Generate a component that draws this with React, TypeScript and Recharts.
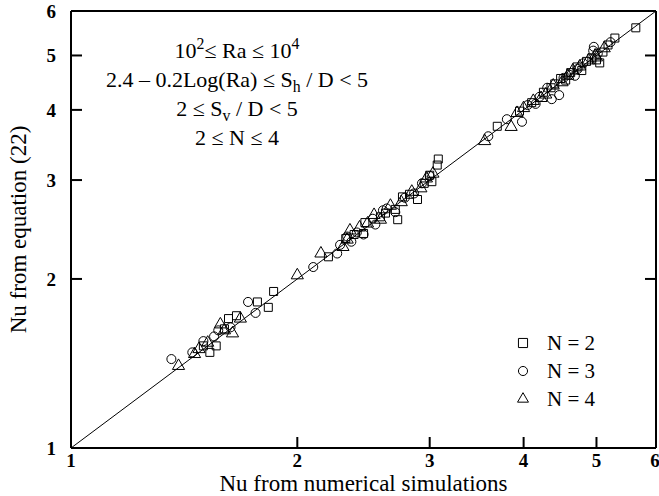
import { Legend, ReferenceLine, Scatter, ScatterChart, Symbols, XAxis, YAxis } from "recharts";

const WIDTH = 659;
const HEIGHT = 496;
const FONT = '"Liberation Serif", "Times New Roman", serif';

const TICKS = [1, 2, 3, 4, 5, 6];
const DOMAIN: [number, number] = [1, 6];

// [Nu from numerical simulations, Nu from equation (22)]
const N2_POINTS: [number, number][] = [
  [1.5, 1.52], [1.53, 1.48], [1.56, 1.52], [1.6, 1.63], [1.62, 1.7], [1.66, 1.72],
  [1.77, 1.82], [1.83, 1.78], [1.86, 1.9],
  [2.2, 2.19], [2.32, 2.36], [2.38, 2.4], [2.45, 2.41], [2.46, 2.52], [2.58, 2.58],
  [2.62, 2.62], [2.7, 2.66], [2.72, 2.55], [2.76, 2.8], [2.82, 2.83], [2.89, 2.77],
  [2.95, 2.96], [3.0, 3.06], [3.02, 2.98], [3.07, 3.19], [3.08, 3.27],
  [3.69, 3.74], [3.95, 3.98], [4.1, 4.12], [4.25, 4.3], [4.35, 4.38], [4.4, 4.45],
  [4.48, 4.55], [4.55, 4.52], [4.62, 4.66], [4.71, 4.77], [4.78, 4.7], [4.85, 4.88],
  [4.93, 4.95], [5.0, 4.91], [5.05, 4.85], [5.1, 5.07], [5.18, 5.22], [5.29, 5.37],
  [5.64, 5.6],
];

const N3_POINTS: [number, number][] = [
  [1.36, 1.44], [1.45, 1.48], [1.5, 1.55], [1.55, 1.58], [1.57, 1.62], [1.63, 1.64],
  [1.72, 1.82], [1.76, 1.74],
  [2.1, 2.1], [2.26, 2.22], [2.28, 2.3], [2.33, 2.38], [2.36, 2.33], [2.4, 2.42],
  [2.45, 2.4], [2.52, 2.56], [2.54, 2.5], [2.6, 2.65], [2.63, 2.67], [2.7, 2.63],
  [2.78, 2.79], [2.86, 2.84], [2.93, 2.96], [3.0, 3.05],
  [3.59, 3.59], [3.8, 3.85], [3.98, 3.81], [4.05, 4.08], [4.15, 4.1], [4.2, 4.22],
  [4.3, 4.38], [4.36, 4.18], [4.46, 4.25], [4.52, 4.56], [4.6, 4.62], [4.68, 4.6],
  [4.72, 4.73], [4.8, 4.84], [4.95, 5.1], [4.96, 5.18], [5.02, 5.04], [5.22, 5.28],
];

const N4_POINTS: [number, number][] = [
  [1.39, 1.4], [1.46, 1.47], [1.48, 1.5], [1.52, 1.54], [1.58, 1.66], [1.6, 1.62],
  [1.64, 1.6], [1.68, 1.7],
  [2.0, 2.03], [2.15, 2.22], [2.3, 2.28], [2.33, 2.35], [2.35, 2.44], [2.42, 2.47],
  [2.48, 2.51], [2.53, 2.6], [2.58, 2.55], [2.66, 2.7], [2.75, 2.74], [2.84, 2.86],
  [2.92, 2.9], [2.97, 3.02], [3.03, 3.08],
  [3.55, 3.52], [3.85, 3.73], [3.92, 3.95], [4.0, 4.03], [4.12, 4.15], [4.22, 4.2],
  [4.28, 4.26], [4.38, 4.42], [4.5, 4.48], [4.58, 4.6], [4.65, 4.7], [4.75, 4.78],
  [4.88, 4.9], [4.98, 5.0], [5.0, 4.96], [5.12, 5.15],
];

const SERIES = [
  { name: "N = 2", shape: "square" as const, size: 64, points: N2_POINTS },
  { name: "N = 3", shape: "circle" as const, size: 50, points: N3_POINTS },
  { name: "N = 4", shape: "triangle" as const, size: 40, points: N4_POINTS },
];

const toRows = (points: [number, number][]) => points.map(([x, y]) => ({ x, y }));

const axisLine = { stroke: "#000", strokeWidth: 2 };
const TICK_LEN = 11;
const TICK_STROKE = { stroke: "#000", strokeWidth: 2 };
const isInner = (v: number) => v !== DOMAIN[0] && v !== DOMAIN[1];

// tick marks drawn as paths (inward), with the label where the side has one
function BottomTick({ x, y, payload }: any) {
  return (
    <g>
      {isInner(payload.value) && <path d={`M${x},${y}V${y - TICK_LEN}`} {...TICK_STROKE} />}
      <text x={x} y={y + 4} dy="0.78em" textAnchor="middle" fontFamily={FONT} fontSize={19} fontWeight={700} fill="#000">
        {payload.value}
      </text>
    </g>
  );
}

function LeftTick({ x, y, payload }: any) {
  return (
    <g>
      {isInner(payload.value) && <path d={`M${x},${y}H${x + TICK_LEN}`} {...TICK_STROKE} />}
      <text x={x - 15} y={y} dy="0.36em" textAnchor="end" fontFamily={FONT} fontSize={19} fontWeight={700} fill="#000">
        {payload.value}
      </text>
    </g>
  );
}

function TopTick({ x, y, payload }: any) {
  if (!isInner(payload.value)) return <g />;
  return <path d={`M${x},${y}V${y + TICK_LEN}`} {...TICK_STROKE} />;
}

function RightTick({ x, y, payload }: any) {
  if (!isInner(payload.value)) return <g />;
  return <path d={`M${x},${y}H${x - TICK_LEN}`} {...TICK_STROKE} />;
}

function LegendBox() {
  return (
    <div style={{ fontFamily: FONT, fontSize: 21, color: "#000" }}>
      {SERIES.map((s) => (
        <div key={s.name} style={{ display: "flex", alignItems: "center", height: 28 }}>
          <svg width={20} height={20} style={{ marginRight: 14 }}>
            <Symbols cx={10} cy={10} type={s.shape} size={s.size * 1.3} fill="none" stroke="#000" />
          </svg>
          <span>{s.name}</span>
        </div>
      ))}
    </div>
  );
}

function Annotation() {
  const sub = { fontSize: "0.72em", verticalAlign: "-0.3em", lineHeight: 0 };
  const sup = { fontSize: "0.72em", verticalAlign: "0.55em", lineHeight: 0 };
  return (
    <div
      style={{
        position: "absolute",
        left: 0,
        top: 36,
        width: 474,
        textAlign: "center",
        fontFamily: FONT,
        fontSize: 22,
        lineHeight: "29px",
        color: "#000",
        pointerEvents: "none",
      }}
    >
      <div>
        10<span style={sup}>2</span>≤ Ra ≤ 10<span style={sup}>4</span>
      </div>
      <div>
        2.4 – 0.2Log(Ra) ≤ S<span style={sub}>h</span> / D &lt; 5
      </div>
      <div>
        2 ≤ S<span style={sub}>v</span> / D &lt; 5
      </div>
      <div>2 ≤ N ≤ 4</div>
    </div>
  );
}

export default function App() {
  const logAxis = { type: "number" as const, scale: "log" as const, domain: DOMAIN, ticks: TICKS, allowDataOverflow: true };
  return (
    <div style={{ position: "absolute", left: 0, top: 0, width: WIDTH, height: HEIGHT, background: "#fff" }}>
      <ScatterChart width={WIDTH} height={HEIGHT} margin={{ top: 11, right: 3, bottom: 0, left: 0 }}>
        <XAxis
          xAxisId="bottom"
          dataKey="x"
          {...logAxis}
          height={48}
          tickSize={0}
          tickMargin={0}
          tick={BottomTick}
          axisLine={axisLine}
          tickLine={false}
          label={{
            value: "Nu from numerical simulations",
            position: "insideBottom",
            offset: 5,
            style: { fill: "#000", fontSize: 23, fontFamily: FONT },
          }}
        />
        <XAxis xAxisId="top" orientation="top" mirror {...logAxis} tickSize={0} tickMargin={0} tick={TopTick} axisLine={axisLine} tickLine={false} />
        <YAxis
          yAxisId="left"
          dataKey="y"
          {...logAxis}
          width={71}
          tickSize={0}
          tickMargin={0}
          tick={LeftTick}
          axisLine={axisLine}
          tickLine={false}
          label={{
            value: "Nu from equation (22)",
            angle: -90,
            position: "insideLeft",
            offset: 18,
            style: { textAnchor: "middle", fill: "#000", fontSize: 23, fontFamily: FONT },
          }}
        />
        <YAxis yAxisId="right" orientation="right" mirror {...logAxis} tickSize={0} tickMargin={0} tick={RightTick} axisLine={axisLine} tickLine={false} />
        <ReferenceLine
          xAxisId="bottom"
          yAxisId="left"
          segment={[
            { x: 1, y: 1 },
            { x: 6, y: 6 },
          ]}
          stroke="#000"
          strokeWidth={1}
        />
        {SERIES.map((s) => (
          <Scatter
            key={s.name}
            name={s.name}
            xAxisId="bottom"
            yAxisId="left"
            data={toRows(s.points)}
            shape={s.shape}
            legendType={s.shape}
            fill="none"
            stroke="#000"
            strokeWidth={1}
            isAnimationActive={false}
            {...{ size: s.size }}
          />
        ))}
        <Legend
          layout="vertical"
          align="center"
          verticalAlign="middle"
          content={() => <LegendBox />}
          wrapperStyle={{ left: 513, top: 329, width: 130 }}
        />
      </ScatterChart>
      <Annotation />
    </div>
  );
}
